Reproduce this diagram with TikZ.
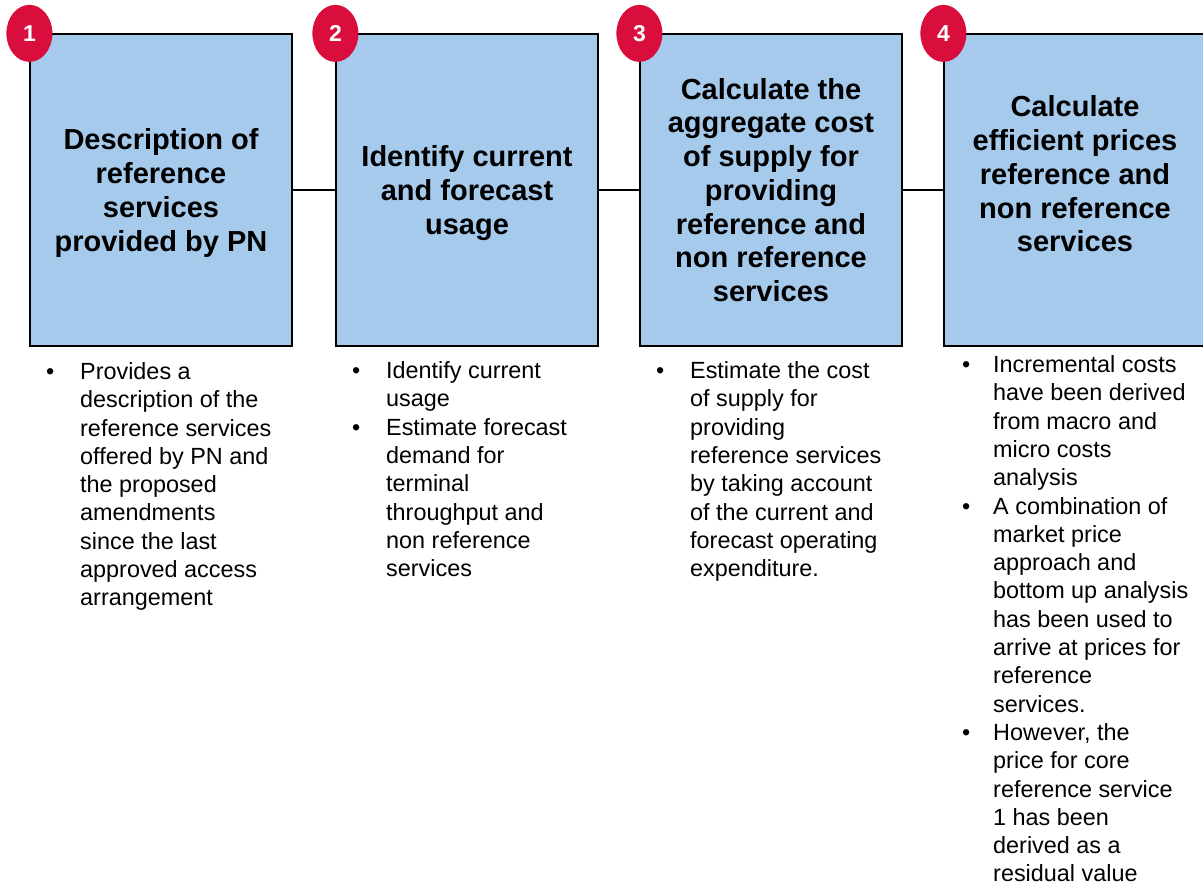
\documentclass[tikz,border=0pt]{standalone}
\usepackage{fontspec}
\setmainfont{Liberation Sans}
\usetikzlibrary{shapes.geometric}
\definecolor{stageblue}{RGB}{166,202,236}
\definecolor{stagered}{RGB}{218,14,61}
\tikzstyle{stage}=[draw=black,line width=1.2pt,fill=stageblue,minimum width=262pt,minimum height=312pt,inner sep=0pt]
\tikzstyle{badge}=[ellipse,fill=stagered,minimum width=46pt,minimum height=57pt,inner sep=0pt,text=white,font=\fontsize{23}{25}\selectfont\bfseries]
\tikzstyle{title}=[align=center,inner sep=0pt,font=\fontsize{29}{33.7}\selectfont\bfseries]
\tikzstyle{notes}=[anchor=base west,inner sep=0pt,font=\fontsize{23.4}{28.3}\selectfont]
\tikzstyle{edge} = [draw,line width=1.2pt,-]

\begin{document}
\begin{tikzpicture}[x=1pt,y=-1pt]
    \useasboundingbox (0,0) rectangle (1203,886);
    % Draw the four stages
    \foreach \pos/\name in {{(161,190)/S1}, {(467,190)/S2}, {(771,190)/S3}, {(1075,190)/S4}}
        \node[stage] (\name) at \pos {};

    % Connect stages with edges
    \foreach \source/ \dest in {S1/S2, S2/S3, S3/S4}
        \path[edge] (\source) -- (\dest) ;

    % Number badges on the corners
    \foreach \name/\num in {S1/1, S2/2, S3/3, S4/4}
        \node[badge] (B\num) at (\name.north west) {\num};

    % Titles
    \node[title] (T1) at ([yshift=-3pt]S1.center) {Description of\\reference\\services\\provided by PN};
    \node[title] (T2) at ([yshift=-3pt]S2.center) {Identify current\\and forecast\\usage};
    \node[title] (T3) at (S3) {Calculate the\\aggregate cost\\of supply for\\providing\\reference and\\non reference\\services};
    \node[title] (T4) at ([yshift=16pt]S4.center) {Calculate\\efficient prices\\reference and\\non reference\\services};

    % Notes below the stages
    \node[notes] (N1) at (46,379.4) {\begin{tabular}[t]{@{}p{34pt}@{}l@{}}
        \textbullet & Provides a\\
        & description of the\\
        & reference services\\
        & offered by PN and\\
        & the proposed\\
        & amendments\\
        & since the last\\
        & approved access\\
        & arrangement
    \end{tabular}};
    \node[notes] (N2) at (352,378.5) {\begin{tabular}[t]{@{}p{34pt}@{}l@{}}
        \textbullet & Identify current\\
        & usage\\
        \textbullet & Estimate forecast\\
        & demand for\\
        & terminal\\
        & throughput and\\
        & non reference\\
        & services
    \end{tabular}};
    \node[notes] (N3) at (656,378.5) {\begin{tabular}[t]{@{}p{34pt}@{}l@{}}
        \textbullet & Estimate the cost\\
        & of supply for\\
        & providing\\
        & reference services\\
        & by taking account\\
        & of the current and\\
        & forecast operating\\
        & expenditure.
    \end{tabular}};
    \node[notes] (N4) at (962,372.5) {\begin{tabular}[t]{@{}p{31pt}@{}l@{}}
        \textbullet & Incremental costs\\
        & have been derived\\
        & from macro and\\
        & micro costs\\
        & analysis\\
        \textbullet & A combination of\\
        & market price\\
        & approach and\\
        & bottom up analysis\\
        & has been used to\\
        & arrive at prices for\\
        & reference\\
        & services.\\
        \textbullet & However, the\\
        & price for core\\
        & reference service\\
        & 1 has been\\
        & derived as a\\
        & residual value
    \end{tabular}};
\end{tikzpicture}
\end{document}
